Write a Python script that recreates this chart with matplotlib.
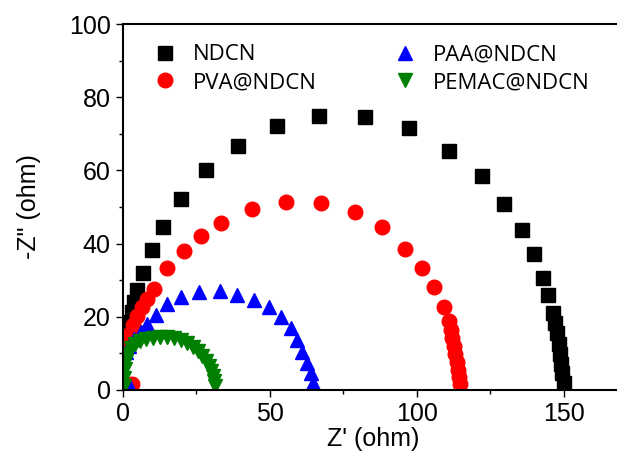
import matplotlib
matplotlib.use("Agg")
import matplotlib.pyplot as plt
from matplotlib.ticker import MultipleLocator

# Nyquist data (Z', -Z'')
ndcn_x = [0.3, 1.0, 1.7, 2.4, 3.1, 3.8, 4.8, 6.8, 9.9, 13.6, 19.8, 28.3, 39.2, 52.5,
          66.8, 82.5, 97.2, 111.1, 122.1, 129.6, 135.7, 139.8, 142.9, 144.6, 146.3,
          147.0, 147.6, 148.3, 148.7, 149.0, 149.3, 150.0]
ndcn_y = [10.3, 13.0, 15.8, 18.5, 21.2, 24.0, 27.3, 31.9, 38.2, 44.5, 52.2, 60.1, 66.8, 72.2,
          74.9, 74.7, 71.6, 65.3, 58.5, 50.8, 43.7, 37.1, 30.5, 25.9, 21.0,
          18.2, 15.5, 12.5, 9.7, 7.0, 4.5, 1.8]

pva_x = [3.0, 0.3, 1.4, 2.4, 3.4, 4.8, 6.5, 8.2, 10.6, 15.0, 20.8, 26.6, 33.4, 44.0, 55.6,
         67.5, 78.8, 88.3, 96.1, 101.6, 105.7, 109.4, 110.8, 111.5, 111.8, 112.5,
         112.9, 113.5, 113.9, 114.2, 114.6]
pva_y = [1.5, 10.3, 12.7, 15.2, 17.7, 20.1, 22.6, 24.8, 27.5, 33.3, 37.9, 42.1, 45.6, 49.5, 51.4,
         51.1, 48.6, 44.5, 38.5, 33.3, 28.1, 22.6, 18.8, 16.3, 14.1, 11.9,
         9.7, 7.5, 5.3, 3.4, 1.5]

paa_x = [2.5, 0.0, 1.0, 2.0, 3.8, 6.1, 8.2, 11.3, 15.0, 19.8, 25.9, 33.1, 38.9, 44.7, 49.8,
         53.9, 57.3, 59.3, 61.0, 62.7, 64.1, 64.8]
paa_y = [0.8, 8.6, 10.3, 11.9, 13.8, 15.8, 17.9, 20.4, 23.4, 25.3, 26.7, 27.0, 25.9, 24.5, 22.6,
         19.9, 16.8, 13.6, 10.3, 7.3, 4.5, 1.8]

pemac_x = [0.3, 0.3, 0.7, 1.0, 1.7, 2.7, 4.1, 5.8, 7.8, 10.2, 12.6, 15.0, 17.4, 19.8,
           21.8, 23.9, 25.6, 26.9, 28.3, 29.3, 30.0, 30.7, 31.0, 31.4]
pemac_y = [1.0, 3.2, 5.6, 7.8, 9.7, 11.4, 12.5, 13.3, 13.8, 14.1, 14.4, 14.4, 14.1, 13.6,
           12.7, 11.6, 10.5, 9.2, 7.8, 6.4, 5.1, 3.7, 2.3, 1.0]

fig = plt.figure(figsize=(6.17, 4.61), dpi=100)
ax = fig.add_axes([0.1994, 0.155, 1.009 - 0.1994, 0.947 - 0.155])

ax.plot(ndcn_x, ndcn_y, "s", color="black", ms=9.5, ls="none", label="NDCN")
ax.plot(pva_x, pva_y, "o", color="#ff0000", ms=10.5, ls="none", label="PVA@NDCN")
ax.plot(paa_x, paa_y, "^", color="#0000ff", ms=10.5, ls="none", label="PAA@NDCN")
ax.plot(pemac_x, pemac_y, "v", color="#008000", ms=10.5, ls="none", label="PEMAC@NDCN")

ax.set_xlim(0, 170)
ax.set_ylim(0, 100)
ax.xaxis.set_major_locator(MultipleLocator(50))
ax.xaxis.set_minor_locator(MultipleLocator(25))
ax.yaxis.set_major_locator(MultipleLocator(20))
ax.yaxis.set_minor_locator(MultipleLocator(10))

for s in ax.spines.values():
    s.set_linewidth(1.5)
ax.spines["right"].set_visible(False)

ax.tick_params(which="both", direction="out", width=1.0, top=False, right=False)
ax.tick_params(which="major", length=5, pad=4, labelsize=18)
ax.tick_params(which="minor", length=3)
for lab in ax.get_xticklabels() + ax.get_yticklabels():
    lab.set_family("Liberation Sans")

ax.set_xlabel("Z' (ohm)", family="Liberation Sans", fontsize=18, labelpad=1)
ax.set_ylabel('-Z" (ohm)', family="Liberation Sans", fontsize=18, labelpad=20)

ax.legend(loc="upper left", ncol=2, frameon=False, prop={"family": "Open Sans", "size": 16},
          bbox_to_anchor=(0.02, 1.0), columnspacing=3.4, handletextpad=0.7,
          labelspacing=0.3, handlelength=1.1)

fig.savefig("out.png", dpi=100)
